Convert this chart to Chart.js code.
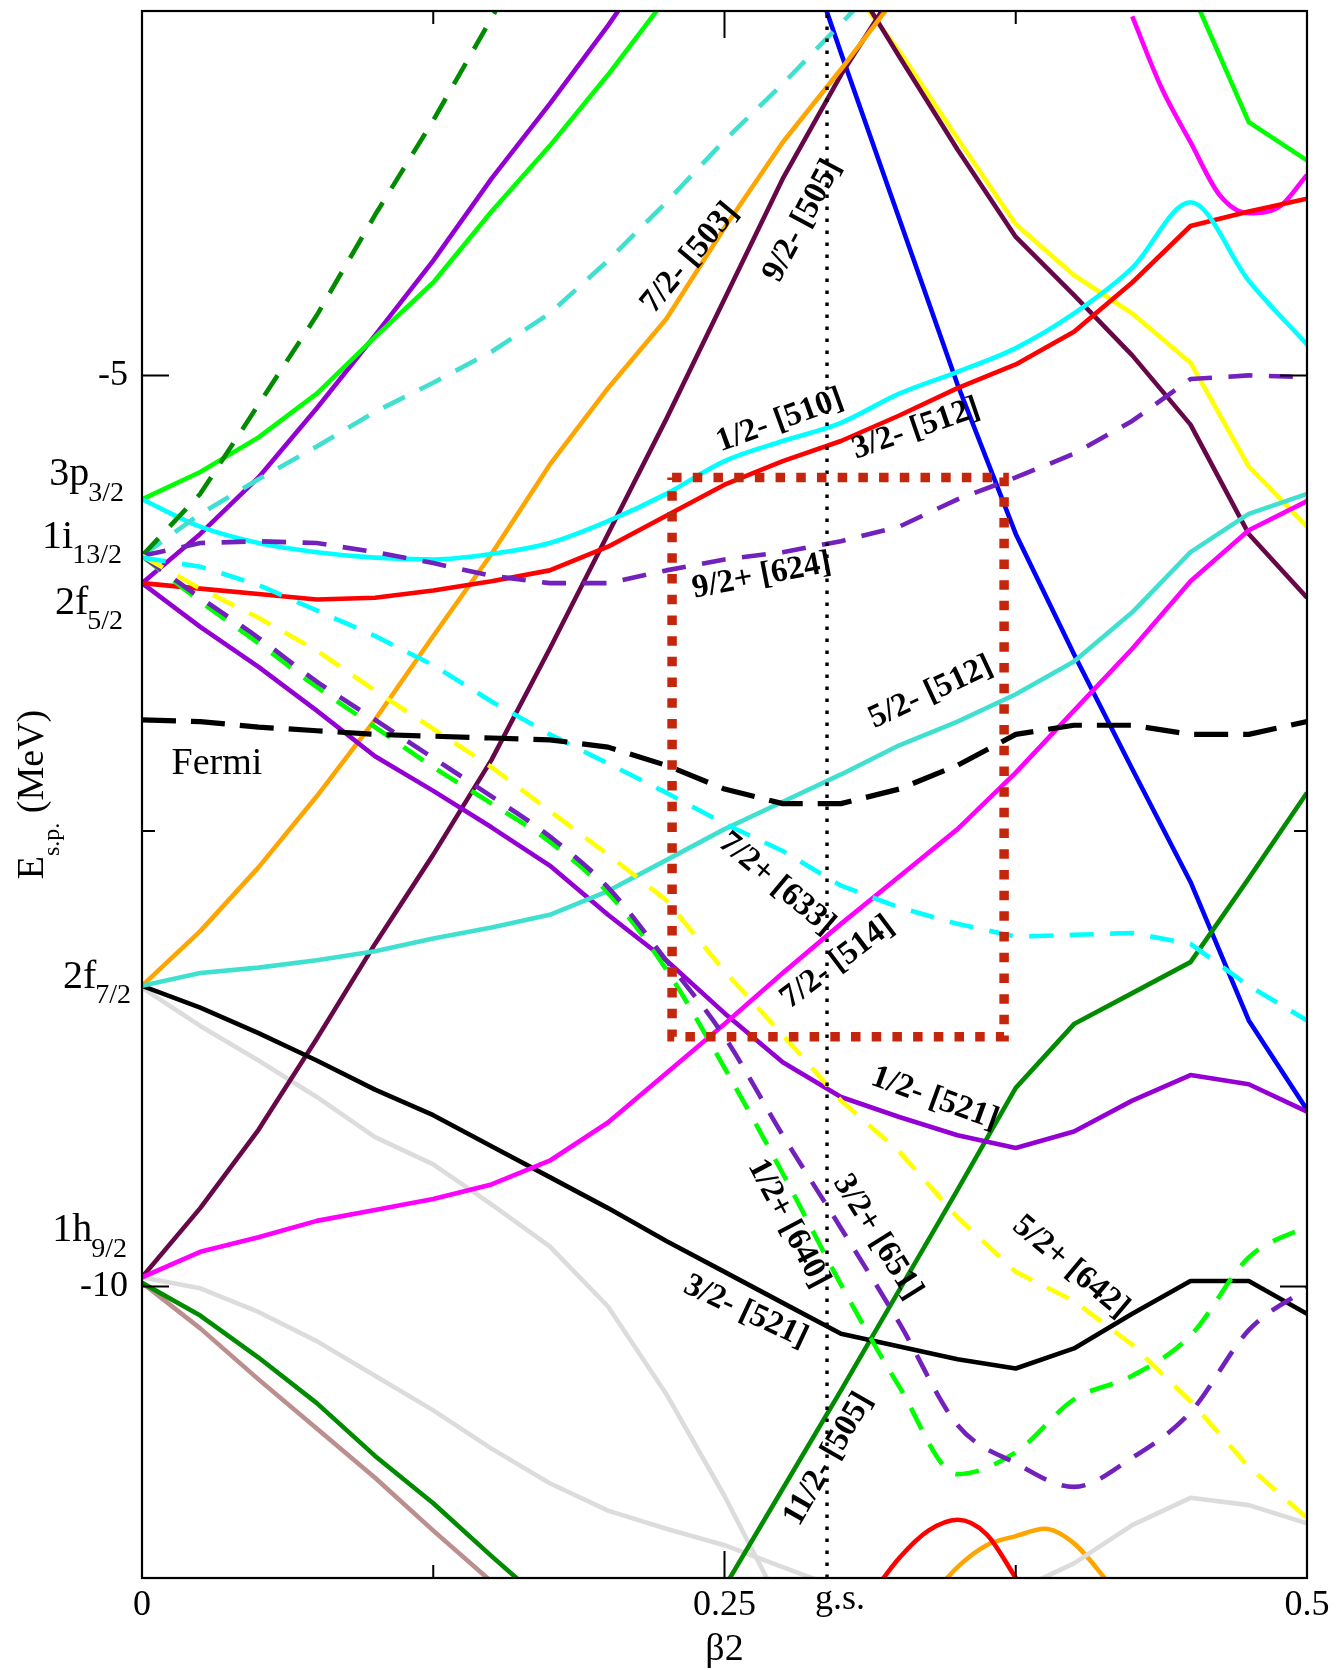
<!DOCTYPE html>
<html>
<head>
<meta charset="utf-8">
<title>Nilsson diagram</title>
<script src="https://cdn.jsdelivr.net/npm/chart.js@4.4.1/dist/chart.umd.min.js"></script>
<style>
  html, body { margin: 0; padding: 0; background: #ffffff; }
  canvas { display: block; }
</style>
</head>
<body>
<canvas id="nilsson" width="1337" height="1670"></canvas>
<script>
// Quadrupole deformation grid (beta2) on which the single-particle levels are tabulated
const BETA = [0, 0.025, 0.05, 0.075, 0.1, 0.125, 0.15, 0.175, 0.2, 0.225, 0.25,
              0.275, 0.3, 0.325, 0.35, 0.375, 0.4, 0.425, 0.45, 0.475, 0.5];

// Single-particle energies (MeV) along BETA
const E_P32_UP      = [-5.68, -5.53, -5.34, -5.10, -4.79, -4.49, -4.10, -3.74, -3.35, -2.93];
const E_LIME_TOP    = [null, null, null, null, null, null, null, null, null, null, null, null, null, null, null, null, null, null, -2.88, -3.61, -3.82];
const E_I13_STEEP   = [-5.99, -5.65, -5.16, -4.67, -4.12, -3.60, -3.04, -2.45];
const E_F52_UP      = [-6.14, -5.87, -5.56, -5.18, -4.78, -4.37, -3.92, -3.51, -3.08, -2.62];
const E_I13_TURQ    = [-5.99, -5.76, -5.57, -5.39, -5.20, -5.04, -4.87, -4.66, -4.37, -4.05, -3.71, -3.40, -3.07, -2.73];
const E_510         = [-5.68, -5.83, -5.92, -5.97, -6.00, -6.01, -5.98, -5.92, -5.80, -5.65, -5.47, -5.36, -5.26, -5.10, -4.98, -4.85, -4.66, -4.41, -4.05, -4.48, -4.83];
const E_512_32      = [-6.14, -6.17, -6.20, -6.23, -6.22, -6.18, -6.13, -6.07, -5.94, -5.77, -5.60, -5.47, -5.36, -5.22, -5.07, -4.94, -4.76, -4.49, -4.18, -4.10, -4.03];
const E_624         = [-5.99, -5.92, -5.91, -5.92, -5.97, -6.03, -6.10, -6.14, -6.14, -6.07, -6.01, -5.97, -5.91, -5.83, -5.68, -5.56, -5.43, -5.25, -5.02, -5.00, -5.01];
const E_503         = [-8.35, -8.05, -7.70, -7.31, -6.89, -6.43, -5.98, -5.49, -5.07, -4.69, -4.19, -3.72, -3.32, -2.90];
const E_505_92      = [-9.95, -9.57, -9.14, -8.64, -8.12, -7.63, -7.11, -6.50, -5.87, -5.24, -4.58, -3.92, -3.35, -2.85];
const E_MAROON_DOWN = [null, null, null, null, null, null, null, null, null, null, null, null, -2.73, -3.25, -3.76, -4.24, -4.56, -4.89, -5.27, -5.87, -6.22];
const E_YELLOW_DOWN = [null, null, null, null, null, null, null, null, null, null, null, null, -2.80, -3.22, -3.70, -4.17, -4.45, -4.66, -4.93, -5.50, -5.83];
const E_BLUE_DOWN   = [null, null, null, null, null, null, null, null, null, null, null, -2.30, -3.23, -4.14, -5.05, -5.87, -6.53, -7.16, -7.78, -8.54, -9.03];
const BETA_MAG_TOP  = [0.425, 0.4375, 0.45, 0.4625, 0.475, 0.4875, 0.5];
const E_MAG_TOP     = [-3.03, -3.42, -3.72, -4.01, -4.11, -4.08, -3.90];
const E_512_52      = [-8.35, -8.28, -8.25, -8.21, -8.16, -8.09, -8.03, -7.96, -7.83, -7.66, -7.49, -7.34, -7.19, -7.03, -6.90, -6.75, -6.57, -6.30, -5.97, -5.76, -5.65];
const E_514         = [-9.95, -9.81, -9.73, -9.64, -9.58, -9.52, -9.44, -9.31, -9.10, -8.83, -8.56, -8.28, -8.01, -7.75, -7.49, -7.18, -6.84, -6.50, -6.13, -5.85, -5.69];
const E_521_12      = [-6.14, -6.38, -6.60, -6.84, -7.09, -7.28, -7.48, -7.69, -7.96, -8.21, -8.50, -8.77, -8.96, -9.07, -9.17, -9.24, -9.15, -8.98, -8.84, -8.89, -9.04];
const E_521_32      = [-8.35, -8.47, -8.61, -8.76, -8.92, -9.06, -9.23, -9.40, -9.57, -9.75, -9.92, -10.09, -10.26, -10.33, -10.40, -10.45, -10.34, -10.15, -9.97, -9.97, -10.15];
const E_GREY_F72    = [-8.36, -8.57, -8.76, -8.96, -9.18, -9.33, -9.55, -9.78, -10.11, -10.59, -11.15, -11.77];
const E_GREY_H92    = [-9.95, -10.01, -10.14, -10.30, -10.49, -10.68, -10.89, -11.08, -11.23, -11.33, -11.42, -11.54, -11.66];
const E_GREY_LOW    = [null, null, null, null, null, null, null, null, null, null, null, null, null, null, null, -11.67, -11.52, -11.31, -11.16, -11.20, -11.30];
const E_GREEN_LOW   = [-9.98, -10.16, -10.39, -10.64, -10.93, -11.19, -11.48, -11.76];
const E_BROWN_LOW   = [-9.98, -10.23, -10.51, -10.78, -11.05, -11.34, -11.62];
const E_505_112     = [null, null, null, null, null, null, null, null, null, null, -11.65, -11.11, -10.57, -10.02, -9.47, -8.91, -8.56, -8.39, -8.22, -7.76, -7.29];
const BETA_RED_LOW  = [0.3125, 0.325, 0.3375, 0.35, 0.3625, 0.375, 0.3875];
const E_RED_LOW     = [-11.70, -11.49, -11.34, -11.28, -11.36, -11.60, -11.85];
const BETA_ORA_LOW  = [0.3375, 0.35, 0.3625, 0.375, 0.3875, 0.4, 0.4125, 0.425];
const E_ORA_LOW     = [-11.72, -11.54, -11.42, -11.37, -11.33, -11.41, -11.59, -11.80];
const E_633         = [-6.00, -6.05, -6.15, -6.29, -6.43, -6.59, -6.79, -6.97, -7.13, -7.29, -7.46, -7.61, -7.80, -7.92, -8.01, -8.08, -8.07, -8.06, -8.12, -8.35, -8.54];
const E_642         = [-5.99, -6.17, -6.33, -6.51, -6.73, -6.94, -7.15, -7.39, -7.63, -7.88, -8.27, -8.62, -8.98, -9.26, -9.62, -9.92, -10.08, -10.32, -10.63, -10.99, -11.27];
const E_651         = [-5.99, -6.22, -6.44, -6.68, -6.89, -7.10, -7.31, -7.53, -7.81, -8.21, -8.63, -9.17, -9.68, -10.20, -10.76, -10.97, -11.10, -10.94, -10.69, -10.24, -10.01];
const E_640         = [-5.99, -6.24, -6.47, -6.71, -6.93, -7.15, -7.35, -7.56, -7.84, -8.26, -8.80, -9.38, -9.99, -10.55, -11.03, -10.91, -10.62, -10.49, -10.27, -9.84, -9.67];
const E_FERMI       = [-6.89, -6.90, -6.93, -6.95, -6.97, -6.98, -6.99, -7.00, -7.04, -7.14, -7.27, -7.35, -7.35, -7.27, -7.14, -6.97, -6.92, -6.92, -6.97, -6.97, -6.90];

// Ground-state deformation and the highlighted window around it
const GS_BETA = 0.294;
const WINDOW_BETA = [0.2275, 0.37];
const WINDOW_E = [-5.56, -8.63];

// Axes
const X_RANGE = [0, 0.5];
const Y_RANGE = [-11.6, -3.0];
const X_TICKS = [0, 0.125, 0.25, 0.375, 0.5];
const X_TICK_LABELS = ['0', '', '0.25', '', '0.5'];
const Y_TICKS = [-10, -7.5, -5];
const Y_TICK_LABELS = ['-10', '', '-5'];

// Spherical shell-model parentage written beside the axis
const SHELL_NAMES = ['3p', '1i', '2f', '2f', '1h'];
const SHELL_J = ['3/2', '13/2', '5/2', '7/2', '9/2'];
const SHELL_LABEL_E = [-5.602, -5.945, -6.307, -8.36, -9.751];
const SHELL_LABEL_DX = [-18, -20, -19, -11, -15];

// Asymptotic Nilsson labels: text, centre (beta, E) and slant in degrees
const ORBIT_LABELS = [
  { text: '7/2- [503]',  beta: 0.2352, e: -4.356,  angle: -50 },
  { text: '9/2- [505]',  beta: 0.2835, e: -4.151,  angle: -62 },
  { text: '1/2- [510]',  beta: 0.2738, e: -5.249,  angle: -20 },
  { text: '3/2- [512]',  beta: 0.3322, e: -5.294,  angle: -19 },
  { text: '9/2+ [624]',  beta: 0.2660, e: -6.101,  angle: -11 },
  { text: '5/2- [512]',  beta: 0.3386, e: -6.740,  angle: -25 },
  { text: '7/2+ [633]',  beta: 0.2724, e: -7.790,  angle: 40 },
  { text: '7/2- [514]',  beta: 0.2985, e: -8.222,  angle: -37 },
  { text: '1/2- [521]',  beta: 0.3403, e: -8.969,  angle: 20 },
  { text: '1/2+ [640]',  beta: 0.2774, e: -9.655,  angle: 62 },
  { text: '3/2+ [651]',  beta: 0.3157, e: -9.729,  angle: 58 },
  { text: '5/2+ [642]',  beta: 0.3986, e: -9.893,  angle: 40 },
  { text: '3/2- [521]',  beta: 0.2591, e: -10.139, angle: 25 },
  { text: '11/2- [505]', beta: 0.2946, e: -10.947, angle: -60 }
];
const FERMI_LABEL = { text: 'Fermi', beta: 0.0127, e: -7.188 };

const COL = {
  lime: '#00ff00', green4: '#008b00', violet: '#9400d3', indigo: '#7221bc',
  turquoise: '#40e0d0', cyan: '#00ffff', red: '#ff0000', orange: '#ffa500',
  maroon: '#670748', blue: '#0000ff', yellow: '#ffff00', magenta: '#ff00ff',
  grey: '#dcdcdc', brown: '#bc8f8f', black: '#000000', box: '#c4260c'
};
const DASH = [24, 16.5];
const FONT = '"Liberation Serif", "Times New Roman", serif';

function series(betas, energies) {
  const out = [];
  energies.forEach((e, i) => {
    if (e !== null && e !== undefined) out.push({ x: betas[i], y: e });
  });
  return out;
}

function level(betas, energies, color, opts = {}) {
  return {
    data: series(betas, energies),
    borderColor: color,
    borderWidth: opts.width || 4.6,
    borderDash: opts.dash || [],
    borderCapStyle: 'butt',
    borderJoinStyle: 'round',
    cubicInterpolationMode: opts.smooth ? 'monotone' : 'default',
    tension: 0,
    pointRadius: 0,
    fill: false
  };
}

const datasets = [
  // highlighted window and ground-state marker (drawn on top)
  {
    data: [
      { x: WINDOW_BETA[0], y: WINDOW_E[0] }, { x: WINDOW_BETA[1], y: WINDOW_E[0] },
      { x: WINDOW_BETA[1], y: WINDOW_E[1] }, { x: WINDOW_BETA[0], y: WINDOW_E[1] },
      { x: WINDOW_BETA[0], y: WINDOW_E[0] }
    ],
    borderColor: COL.box, borderWidth: 9.5, borderDash: [9.5, 11.2],
    borderCapStyle: 'butt', pointRadius: 0, fill: false, tension: 0
  },
  {
    data: [{ x: GS_BETA, y: Y_RANGE[0] }, { x: GS_BETA, y: Y_RANGE[1] }],
    borderColor: COL.black, borderWidth: 3.4, borderDash: [3.4, 8.6],
    borderCapStyle: 'butt', pointRadius: 0, fill: false, tension: 0
  },
  // positive-parity (dashed) orbitals and the Fermi level
  level(BETA, E_FERMI, COL.black, { dash: [34, 15], width: 5.2 }),
  level(BETA, E_633, COL.cyan, { dash: DASH }),
  level(BETA, E_642, COL.yellow, { dash: DASH }),
  level(BETA, E_651, COL.indigo, { dash: DASH, smooth: true }),
  level(BETA, E_640, COL.lime, { dash: DASH, smooth: true }),
  level(BETA, E_624, COL.indigo, { dash: DASH }),
  level(BETA, E_I13_STEEP, COL.green4, { dash: DASH }),
  level(BETA, E_I13_TURQ, COL.turquoise, { dash: DASH }),
  // negative-parity (solid) orbitals
  level(BETA, E_510, COL.cyan, { smooth: true }),
  level(BETA, E_512_32, COL.red),
  level(BETA, E_512_52, COL.turquoise),
  level(BETA, E_514, COL.magenta),
  level(BETA, E_521_12, COL.violet),
  level(BETA, E_521_32, COL.black),
  level(BETA, E_503, COL.orange),
  level(BETA, E_505_92, COL.maroon),
  level(BETA, E_505_112, COL.green4),
  level(BETA, E_BLUE_DOWN, COL.blue),
  level(BETA, E_MAROON_DOWN, COL.maroon),
  level(BETA, E_YELLOW_DOWN, COL.yellow),
  level(BETA_MAG_TOP, E_MAG_TOP, COL.magenta, { smooth: true }),
  level(BETA, E_LIME_TOP, COL.lime),
  level(BETA, E_P32_UP, COL.lime),
  level(BETA, E_F52_UP, COL.violet),
  level(BETA, E_GREY_F72, COL.grey),
  level(BETA, E_GREY_H92, COL.grey),
  level(BETA, E_GREY_LOW, COL.grey),
  level(BETA, E_GREEN_LOW, COL.green4),
  level(BETA, E_BROWN_LOW, COL.brown),
  level(BETA_RED_LOW, E_RED_LOW, COL.red, { smooth: true }),
  level(BETA_ORA_LOW, E_ORA_LOW, COL.orange, { smooth: true })
];

// Frame with inward ticks, orbital labels, shell labels and axis titles
const decorations = {
  id: 'decorations',
  afterDatasetsDraw(chart) {
    const { ctx, chartArea: a } = chart;
    const xs = chart.scales.x, ys = chart.scales.y;
    ctx.save();

    ctx.strokeStyle = '#000';
    ctx.lineWidth = 2;
    X_TICKS.forEach((v, i) => {
      const px = xs.getPixelForValue(v);
      const len = X_TICK_LABELS[i] ? 27 : 13;
      ctx.beginPath();
      ctx.moveTo(px, a.bottom); ctx.lineTo(px, a.bottom - len);
      ctx.moveTo(px, a.top); ctx.lineTo(px, a.top + len);
      ctx.stroke();
    });
    Y_TICKS.forEach((v, i) => {
      const py = ys.getPixelForValue(v);
      const len = Y_TICK_LABELS[i] ? 27 : 13;
      ctx.beginPath();
      ctx.moveTo(a.left, py); ctx.lineTo(a.left + len, py);
      ctx.moveTo(a.right, py); ctx.lineTo(a.right - len, py);
      ctx.stroke();
    });
    ctx.lineWidth = 2.2;
    ctx.strokeRect(a.left, a.top, a.right - a.left, a.bottom - a.top);

    ctx.fillStyle = '#000';

    // orbital labels
    ctx.font = 'bold 33px ' + FONT;
    ctx.textAlign = 'center';
    ctx.textBaseline = 'middle';
    ORBIT_LABELS.forEach(l => {
      ctx.save();
      ctx.translate(xs.getPixelForValue(l.beta), ys.getPixelForValue(l.e));
      ctx.rotate(l.angle * Math.PI / 180);
      ctx.fillText(l.text, 0, 0);
      ctx.restore();
    });

    // Fermi level
    ctx.font = '38px ' + FONT;
    ctx.textAlign = 'left';
    ctx.textBaseline = 'alphabetic';
    ctx.fillText(FERMI_LABEL.text, xs.getPixelForValue(FERMI_LABEL.beta), ys.getPixelForValue(FERMI_LABEL.e));

    // spherical parentage beside the energy axis
    SHELL_NAMES.forEach((name, i) => {
      const right = a.left + SHELL_LABEL_DX[i];
      const base = ys.getPixelForValue(SHELL_LABEL_E[i]);
      ctx.font = '28px ' + FONT;
      const wj = ctx.measureText(SHELL_J[i]).width;
      ctx.textAlign = 'left';
      ctx.fillText(SHELL_J[i], right - wj, base + 15.5);
      ctx.font = '40px ' + FONT;
      ctx.textAlign = 'right';
      ctx.fillText(name, right - wj + 1, base);
    });

    // ground-state marker under the deformation axis
    ctx.font = '36px ' + FONT;
    ctx.textAlign = 'center';
    ctx.fillText('g.s.', xs.getPixelForValue(GS_BETA) + 13, a.bottom + 31);

    // deformation axis title
    ctx.font = '38px ' + FONT;
    ctx.textBaseline = 'middle';
    ctx.fillText('\u03b22', (a.left + a.right) / 2, a.bottom + 72);

    // energy axis title, rotated
    ctx.save();
    ctx.translate(a.left - 99, (a.top + a.bottom) / 2);
    ctx.rotate(-Math.PI / 2);
    ctx.textBaseline = 'alphabetic';
    ctx.textAlign = 'left';
    const big = '38px ' + FONT, small = '24px ' + FONT;
    ctx.font = big; const wE = ctx.measureText('E').width; const wM = ctx.measureText(' (MeV)').width;
    ctx.font = small; const wS = ctx.measureText('s.p.').width;
    let u = -(wE + wS + wM) / 2;
    ctx.font = big; ctx.fillText('E', u, 0); u += wE;
    ctx.font = small; ctx.fillText('s.p.', u, 16); u += wS;
    ctx.font = big; ctx.fillText(' (MeV)', u, 0);
    ctx.restore();

    ctx.restore();
  }
};

new Chart(document.getElementById('nilsson'), {
  type: 'line',
  data: { datasets },
  options: {
    responsive: false,
    animation: false,
    devicePixelRatio: 1,
    layout: { padding: { left: 0, right: 30, top: 11, bottom: 0 } },
    plugins: { legend: { display: false }, tooltip: { enabled: false } },
    elements: { line: { tension: 0 } },
    scales: {
      x: {
        type: 'linear',
        min: X_RANGE[0], max: X_RANGE[1],
        afterBuildTicks: s => { s.ticks = X_TICKS.map(v => ({ value: v })); },
        afterFit: s => { s.height = 92; s.paddingLeft = 0; s.paddingRight = 0; },
        grid: { display: false, drawTicks: false },
        border: { display: false },
        ticks: {
          autoSkip: false, maxRotation: 0, padding: 6, color: '#000',
          font: { family: FONT, size: 36 },
          callback: (v, i) => X_TICK_LABELS[i]
        }
      },
      y: {
        type: 'linear',
        min: Y_RANGE[0], max: Y_RANGE[1],
        afterBuildTicks: s => { s.ticks = Y_TICKS.map(v => ({ value: v })); },
        afterFit: s => { s.width = 142; s.paddingTop = 0; s.paddingBottom = 0; },
        grid: { display: false, drawTicks: false },
        border: { display: false },
        ticks: {
          autoSkip: false, padding: 14, color: '#000',
          font: { family: FONT, size: 36 },
          callback: (v, i) => Y_TICK_LABELS[i]
        }
      }
    }
  },
  plugins: [decorations]
});
</script>
</body>
</html>
